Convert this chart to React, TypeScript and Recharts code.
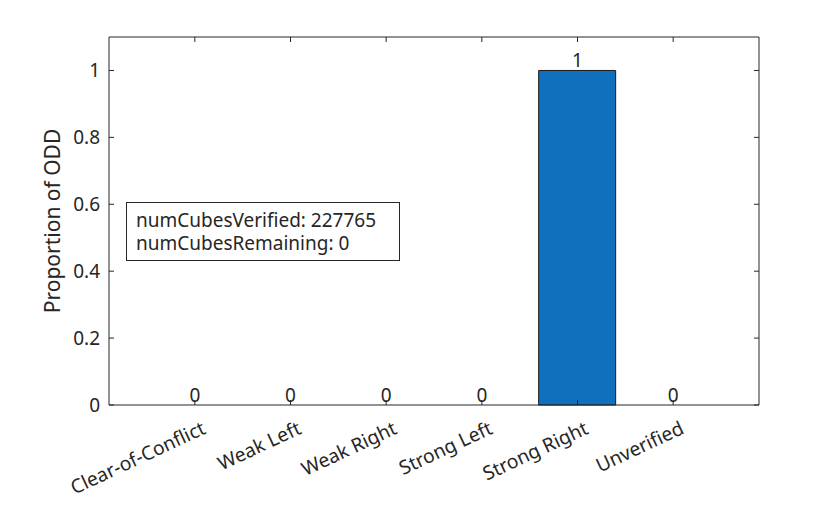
import { ComposedChart, Bar, Line, XAxis, YAxis, LabelList } from 'recharts'

// values
const categories = ['Clear-of-Conflict', 'Weak Left', 'Weak Right', 'Strong Left', 'Strong Right', 'Unverified']
const proportions = [0, 0, 0, 0, 1, 0]
const yTicks = [0, 0.2, 0.4, 0.6, 0.8, 1]
const infoLines = ['numCubesVerified: 227765', 'numCubesRemaining: 0']

const data = categories.map((name, i) => ({ name, value: proportions[i] }))

const W = 840
const H = 505
const X_AXIS_H = 30
const TOP_AXIS_H = 1
const Y_AXIS_W = 60
const RIGHT_AXIS_W = 1
const MARGIN = { top: 37 - TOP_AXIS_H, right: 81 - RIGHT_AXIS_W, bottom: 100 - X_AXIS_H, left: 109 - Y_AXIS_W }
const PLOT_W = 650
const PLOT_H = 368
const TICK_LEN = 5
const AXIS = '#262626'
const FONT = '"Noto Sans", "Liberation Sans", Arial, sans-serif'

function XTick(props: any) {
  const { x, y, payload } = props
  // labels are tilted 25 degrees and end just right of their tick
  const ax = x + 12
  const ay = y + 28
  return (
    <g>
      <line x1={x} y1={y} x2={x} y2={y - TICK_LEN} stroke={AXIS} />
      <line x1={x} y1={y - PLOT_H} x2={x} y2={y - PLOT_H + TICK_LEN} stroke={AXIS} />
      <text
        x={ax}
        y={ay}
        transform={`rotate(-25, ${ax}, ${ay})`}
        textAnchor="end"
        fontSize={19.3}
        fontFamily={FONT}
        fill={AXIS}
      >
        {payload.value}
      </text>
    </g>
  )
}

function YTick(props: any) {
  const { x, y, payload } = props
  return (
    <g>
      <line x1={x} y1={y} x2={x + TICK_LEN} y2={y} stroke={AXIS} />
      <line x1={x + PLOT_W} y1={y} x2={x + PLOT_W - TICK_LEN} y2={y} stroke={AXIS} />
      <text
        x={x - 9}
        y={y}
        dy="0.35em"
        textAnchor="end"
        fontSize={19}
        fontFamily={FONT}
        fill={AXIS}
      >
        {String(payload.value)}
      </text>
    </g>
  )
}

export default function App() {
  return (
    <div style={{ position: 'absolute', left: 0, top: 0, width: W, height: H, background: '#fff' }}>
      <ComposedChart width={W} height={H} data={data} margin={MARGIN} style={{ fontFamily: FONT }}>
        <XAxis
          dataKey="name"
          padding={{ left: 38, right: 38 }}
          tickSize={0}
          tickMargin={0}
          tick={<XTick />}
          stroke={AXIS}
          axisLine={{ stroke: AXIS }}
          tickLine={false}
          interval={0}
          height={X_AXIS_H}
        />
        <XAxis
          xAxisId="top"
          orientation="top"
          dataKey="name"
          tick={false}
          tickLine={false}
          stroke={AXIS}
          axisLine={{ stroke: AXIS }}
          height={TOP_AXIS_H}
        />
        <YAxis
          domain={[0, 1.1]}
          ticks={yTicks}
          width={Y_AXIS_W}
          tickSize={0}
          tickMargin={0}
          tick={<YTick />}
          tickLine={false}
          stroke={AXIS}
          axisLine={{ stroke: AXIS }}
          label={{
            value: 'Proportion of ODD',
            angle: -90,
            position: 'insideLeft',
            offset: 4,
            style: { textAnchor: 'middle', fontSize: 21, fill: AXIS, fontFamily: FONT },
          }}
        />
        <YAxis
          yAxisId="right"
          orientation="right"
          domain={[0, 1.1]}
          tick={false}
          tickLine={false}
          stroke={AXIS}
          axisLine={{ stroke: AXIS }}
          width={RIGHT_AXIS_W}
        />
        <Bar dataKey="value" fill="#1170BE" stroke="#1a1a1a" strokeWidth={1} barSize={77} isAnimationActive={false} />
        <Line dataKey="value" stroke="none" dot={false} activeDot={false} isAnimationActive={false}>
          <LabelList dataKey="value" position="top" offset={3} fill={AXIS} fontSize={19} fontFamily={FONT} />
        </Line>
      </ComposedChart>
      <div
        style={{
          position: 'absolute',
          left: 126,
          top: 202,
          width: 274,
          height: 59,
          border: `1px solid ${AXIS}`,
          boxSizing: 'border-box',
          padding: '6px 0 0 9px',
          fontFamily: FONT,
          fontSize: 19,
          lineHeight: '23px',
          color: AXIS,
          background: '#fff',
        }}
      >
        {infoLines.map((line) => (
          <div key={line}>{line}</div>
        ))}
      </div>
    </div>
  )
}
